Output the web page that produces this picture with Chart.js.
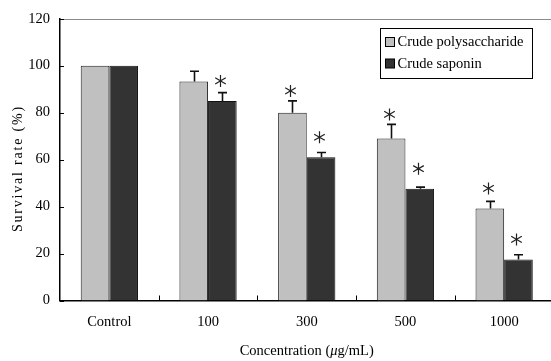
<!DOCTYPE html>
<html>
<head>
<meta charset="utf-8">
<script src="https://cdn.jsdelivr.net/npm/chart.js@4.4.1/dist/chart.umd.min.js"></script>
<style>
html,body{margin:0;padding:0;background:#fff;overflow:hidden;}
#wrap{width:555px;height:361px;}
</style>
</head>
<body>
<div id="wrap"><canvas id="c" width="555" height="361"></canvas></div>
<script>
const categories = ['Control', '100', '300', '500', '1000'];
const polyValues = [100, 93.3, 80, 69, 39.2];
const polyErrors = [0, 4.3, 5, 6, 3];
const polySig = [false, false, true, true, true];
const saponinValues = [100, 85, 61, 47.6, 17.5];
const saponinErrors = [0, 3.5, 2, 0.7, 2];
const saponinSig = [false, true, true, true, true];
const yTicks = [0, 20, 40, 60, 80, 100, 120];
const yTitle = 'Survival rate (%)';
const xTitleParts = [['Concentration (', false], ['μ', true], ['g/mL)', false]];

const FONT = "'Liberation Serif', 'Times New Roman', serif";

function drawSpaced(ctx, text, x, y, spacing) {
  let total = 0;
  for (const ch of text) total += ctx.measureText(ch).width + spacing;
  total -= spacing;
  let cx = x - total / 2;
  for (const ch of text) {
    ctx.fillText(ch, cx, y);
    cx += ctx.measureText(ch).width + spacing;
  }
}

const extras = {
  id: 'extras',
  afterDatasetsDraw(chart) {
    const ctx = chart.ctx;
    const xs = chart.scales.x, ys = chart.scales.y;
    const area = chart.chartArea;
    ctx.save();
    // top border
    ctx.strokeStyle = '#8a8a8a';
    ctx.lineWidth = 1;
    ctx.beginPath();
    ctx.moveTo(area.left, Math.round(ys.getPixelForValue(120)) + 0.5);
    ctx.lineTo(chart.width, Math.round(ys.getPixelForValue(120)) + 0.5);
    ctx.stroke();
    // y ticks inward
    ctx.strokeStyle = '#000';
    yTicks.forEach(v => {
      const y = Math.round(ys.getPixelForValue(v)) + 0.5;
      ctx.beginPath();
      ctx.moveTo(area.left, y);
      ctx.lineTo(area.left + 4, y);
      ctx.stroke();
    });
    // x ticks between categories
    const step = xs.getPixelForValue(1) - xs.getPixelForValue(0);
    for (let i = 0; i < categories.length - 1; i++) {
      const x = Math.round(xs.getPixelForValue(i) + step / 2) + 0.5;
      ctx.beginPath();
      ctx.moveTo(x, area.bottom);
      ctx.lineTo(x, area.bottom - 5);
      ctx.stroke();
    }
    // error bars and asterisks
    const errs = [polyErrors, saponinErrors];
    const sigs = [polySig, saponinSig];
    chart.data.datasets.forEach((ds, di) => {
      const meta = chart.getDatasetMeta(di);
      meta.data.forEach((bar, i) => {
        const v = ds.data[i];
        const top = ys.getPixelForValue(v + errs[di][i]);
        const yb = ys.getPixelForValue(v);
        const x = Math.round(bar.x) + 0.5;
        if (errs[di][i] > 0) {
          ctx.strokeStyle = '#111';
          ctx.lineWidth = 1.6;
          ctx.beginPath();
          ctx.moveTo(x, yb);
          ctx.lineTo(x, top);
          ctx.moveTo(x - 4.5, top);
          ctx.lineTo(x + 4.5, top);
          ctx.stroke();
        }
        if (sigs[di][i]) {
          const cx = x - 2, cy = Math.min(top - 10, yb - 20);
          ctx.strokeStyle = '#222';
          ctx.lineWidth = 1.2;
          ctx.beginPath();
          ctx.moveTo(cx, cy - 6); ctx.lineTo(cx, cy + 6);
          const dx = 5.3, dy = 3.1;
          ctx.moveTo(cx - dx, cy - dy); ctx.lineTo(cx + dx, cy + dy);
          ctx.moveTo(cx - dx, cy + dy); ctx.lineTo(cx + dx, cy - dy);
          ctx.stroke();
        }
      });
    });
    // legend
    const lx = 380.5, ly = 28.5, lw = 152, lh = 50;
    ctx.strokeStyle = '#000';
    ctx.lineWidth = 1;
    ctx.fillStyle = '#fff';
    ctx.fillRect(lx, ly, lw, lh);
    ctx.strokeRect(lx, ly, lw, lh);
    ctx.font = '14.5px ' + FONT;
    ctx.textBaseline = 'middle';
    ctx.textAlign = 'left';
    chart.data.datasets.forEach((ds, di) => {
      const cy = ly + 14 + di * 21.5;
      ctx.fillStyle = ds.backgroundColor;
      ctx.fillRect(lx + 5, cy - 5, 9, 9);
      ctx.strokeStyle = '#000';
      ctx.strokeRect(lx + 5, cy - 5, 9, 9);
      ctx.fillStyle = '#000';
      ctx.fillText(ds.label, lx + 17, cy);
    });
    // x title (with italic mu)
    ctx.textBaseline = 'alphabetic';
    ctx.fillStyle = '#000';
    const fonts = xTitleParts.map(p => (p[1] ? 'italic ' : '') + '14.5px ' + FONT);
    let tw = 0;
    xTitleParts.forEach((p, k) => { ctx.font = fonts[k]; tw += ctx.measureText(p[0]).width; });
    let tx = (area.left + area.right) / 2 - tw / 2;
    xTitleParts.forEach((p, k) => { ctx.font = fonts[k]; ctx.fillText(p[0], tx, 355); tx += ctx.measureText(p[0]).width; });
    // y title
    ctx.save();
    ctx.translate(21.5, 169.5);
    ctx.rotate(-Math.PI / 2);
    ctx.font = '14px ' + FONT;
    drawSpaced(ctx, yTitle, 0, 0, 1.8);
    ctx.restore();
    ctx.restore();
  }
};

new Chart(document.getElementById('c'), {
  type: 'bar',
  data: {
    labels: categories,
    datasets: [
      { label: 'Crude polysaccharide', data: polyValues, backgroundColor: '#c0c0c0', borderColor: '#222', borderWidth: 1 },
      { label: 'Crude saponin', data: saponinValues, backgroundColor: '#333333', borderColor: '#111', borderWidth: 1 }
    ]
  },
  options: {
    responsive: false,
    animation: false,
    layout: { padding: { top: 15, right: 1.5, left: 0, bottom: 0 } },
    categoryPercentage: 0.58,
    barPercentage: 1,
    plugins: { legend: { display: false }, tooltip: { enabled: false } },
    scales: {
      x: {
        grid: { display: false, drawTicks: false },
        border: { display: true, color: '#000', width: 1.5 },
        ticks: { color: '#000', font: { family: FONT, size: 14.5 }, padding: 13 },
        afterFit(s) { s.height = 60.5; }
      },
      y: {
        min: 0, max: 120,
        afterBuildTicks(s) { s.ticks = yTicks.map(v => ({ value: v })); },
        grid: { display: false, drawTicks: false },
        border: { display: true, color: '#000', width: 1.5 },
        ticks: { color: '#000', font: { family: FONT, size: 14.5 }, padding: 10 },
        afterFit(s) { s.width = 60; }
      }
    }
  },
  plugins: [extras]
});
</script>
</body>
</html>
